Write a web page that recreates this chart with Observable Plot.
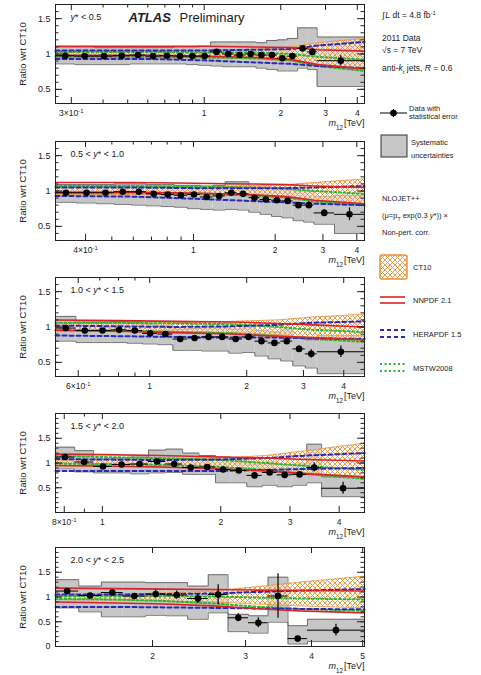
<!DOCTYPE html>
<html><head><meta charset="utf-8">
<script src="https://cdn.jsdelivr.net/npm/d3@7"></script>
<script src="https://cdn.jsdelivr.net/npm/@observablehq/plot@0.6"></script>
<style>
body{margin:0;background:#fff;font-family:"Liberation Sans",Arial,sans-serif;}
#wrap{position:relative;width:481px;height:675px;overflow:hidden;}
#wrap svg{position:absolute;}
</style></head><body><div id="wrap"></div>
<script>
// ---------- data ----------
const rapidityLabels = ["y* < 0.5", "0.5 < y* < 1.0", "1.0 < y* < 1.5", "1.5 < y* < 2.0", "2.0 < y* < 2.5"];
const xDomains = [[0.26, 4.27], [0.31, 4.27], [0.51, 4.64], [0.76, 4.64], [1.31, 5.04]];
const yDomains = [[0.3, 1.7], [0.3, 1.7], [0.3, 1.7], [0, 2], [0, 2]];
const yTickLabels = [[0.5, 1, 1.5], [0.5, 1, 1.5], [0.5, 1, 1.5], [0.5, 1, 1.5], [0, 0.5, 1, 1.5]];
const xTickValues = [
  [0.3, 0.4, 0.5, 0.6, 0.7, 0.8, 0.9, 1, 2, 3, 4],
  [0.4, 0.5, 0.6, 0.7, 0.8, 0.9, 1, 2, 3, 4],
  [0.6, 0.7, 0.8, 0.9, 1, 2, 3, 4],
  [0.8, 0.9, 1, 2, 3, 4],
  [2, 3, 4, 5]];
const xLabelValues = [[0.3, 1, 2, 3, 4], [0.4, 1, 2, 3, 4], [0.6, 1, 2, 3, 4], [0.8, 1, 2, 3, 4], [2, 3, 4, 5]];
const xLabelTexts = [
  ["3×10^-1", "1", "2", "3", "4"],
  ["4×10^-1", "1", "2", "3", "4"],
  ["6×10^-1", "1", "2", "3", "4"],
  ["8×10^-1", "1", "2", "3", "4"],
  ["2", "3", "4", "5"]];

const binEdges = [
  [0.26,0.31,0.37,0.44,0.51,0.59,0.67,0.76,0.85,0.95,1.06,1.18,1.31,1.45,1.60,1.76,1.94,2.12,2.33,2.55,2.78,4.27],
  [0.31,0.37,0.44,0.51,0.59,0.67,0.76,0.85,0.95,1.06,1.18,1.31,1.45,1.60,1.76,1.94,2.12,2.33,2.55,2.78,3.31,4.27],
  [0.51,0.59,0.67,0.76,0.85,0.95,1.06,1.18,1.31,1.45,1.60,1.76,1.94,2.12,2.33,2.55,2.78,3.04,3.31,4.64],
  [0.76,0.85,0.95,1.06,1.18,1.31,1.45,1.60,1.76,1.94,2.12,2.33,2.55,2.78,3.04,3.31,3.61,4.64],
  [1.31,1.45,1.60,1.76,1.94,2.12,2.33,2.55,2.78,3.04,3.31,3.61,3.93,5.04]];
const ratio = [
  [0.975,0.97,0.97,0.975,0.985,0.97,0.975,0.97,0.97,0.97,1.03,1.0,0.985,1.0,0.985,0.985,0.94,0.97,1.08,1.03,0.905],
  [0.975,0.975,0.975,0.99,0.99,0.96,0.95,0.94,0.95,0.915,0.93,0.975,0.96,0.905,0.88,0.87,0.86,0.80,0.80,0.69,0.67],
  [0.985,0.95,0.95,0.96,0.95,0.91,0.90,0.83,0.845,0.86,0.86,0.83,0.86,0.80,0.775,0.80,0.69,0.62,0.65],
  [1.12,1.02,0.93,0.97,0.98,1.03,0.98,0.91,0.92,0.87,0.85,0.75,0.81,0.76,0.77,0.91,0.49],
  [1.12,1.03,1.09,1.02,1.06,1.04,0.97,1.05,0.58,0.48,1.02,0.16,0.33]];
const statErr = [
  [0.005,0.005,0.005,0.005,0.005,0.006,0.006,0.007,0.008,0.009,0.010,0.011,0.012,0.014,0.016,0.020,0.025,0.030,0.040,0.050,0.070],
  [0.006,0.006,0.006,0.006,0.007,0.007,0.008,0.009,0.010,0.011,0.012,0.013,0.015,0.017,0.020,0.025,0.030,0.035,0.045,0.050,0.090],
  [0.010,0.010,0.010,0.010,0.012,0.013,0.014,0.015,0.016,0.018,0.020,0.022,0.025,0.030,0.035,0.040,0.050,0.060,0.080],
  [0.020,0.020,0.020,0.020,0.020,0.020,0.025,0.025,0.030,0.030,0.035,0.040,0.045,0.050,0.060,0.090,0.120],
  [0.05,0.04,0.05,0.05,0.08,0.08,0.10,0.20,0.08,0.10,0.45,0.03,0.12]];
const sysUp = [
  [1.10,1.10,1.09,1.09,1.09,1.09,1.09,1.10,1.10,1.11,1.17,1.17,1.17,1.17,1.16,1.19,1.20,1.22,1.37,1.37,1.24],
  [1.09,1.09,1.09,1.10,1.10,1.09,1.09,1.08,1.08,1.07,1.08,1.13,1.13,1.07,1.06,1.05,1.05,1.00,1.00,0.92,0.94],
  [1.15,1.07,1.07,1.08,1.07,1.03,1.02,0.97,0.98,0.99,0.99,0.97,1.00,0.95,0.93,0.96,0.86,0.82,0.88],
  [1.32,1.25,1.08,1.10,1.12,1.26,1.28,1.20,1.15,1.12,1.10,0.98,1.02,0.97,0.98,1.38,0.72],
  [1.35,1.22,1.30,1.30,1.29,1.29,1.22,1.45,0.65,0.62,1.40,0.42,0.55]];
const sysDown = [
  [0.86,0.85,0.85,0.85,0.86,0.86,0.86,0.86,0.85,0.84,0.83,0.82,0.82,0.82,0.80,0.78,0.76,0.76,0.80,0.78,0.54],
  [0.84,0.83,0.82,0.81,0.80,0.79,0.78,0.77,0.75,0.74,0.73,0.74,0.73,0.70,0.67,0.64,0.62,0.58,0.56,0.53,0.40],
  [0.80,0.78,0.78,0.78,0.77,0.76,0.75,0.67,0.67,0.66,0.66,0.63,0.64,0.59,0.55,0.52,0.45,0.42,0.34],
  [0.88,0.82,0.80,0.80,0.78,0.80,0.81,0.77,0.77,0.60,0.60,0.52,0.55,0.52,0.55,0.60,0.32],
  [0.78,0.70,0.60,0.60,0.63,0.62,0.55,0.68,0.30,0.27,0.49,0.05,0.10]];

const theoryNodes = [
  [0.26,0.6,1.0,1.6,2.2,2.8,4.27],
  [0.31,0.6,1.0,1.6,2.2,2.8,4.27],
  [0.51,0.8,1.2,1.8,2.5,3.2,4.64],
  [0.76,1.0,1.4,2.0,2.6,3.3,4.64],
  [1.31,1.7,2.1,2.6,3.1,3.8,5.04]];
const ct10Hi = [
  [1.05,1.05,1.05,1.07,1.10,1.16,1.22],
  [1.05,1.05,1.05,1.07,1.09,1.12,1.17],
  [1.05,1.05,1.06,1.08,1.10,1.14,1.18],
  [1.06,1.07,1.08,1.10,1.15,1.25,1.40],
  [1.05,1.06,1.08,1.12,1.20,1.30,1.42]];
const ct10Lo = [
  [0.95,0.95,0.95,0.93,0.90,0.84,0.76],
  [0.95,0.95,0.95,0.93,0.90,0.86,0.80],
  [0.95,0.95,0.94,0.92,0.89,0.85,0.80],
  [0.94,0.93,0.92,0.90,0.86,0.80,0.72],
  [0.95,0.94,0.92,0.90,0.86,0.82,0.78]];
const nnpdfHi = [
  [1.11,1.11,1.11,1.10,1.09,1.06,1.04],
  [1.12,1.12,1.11,1.10,1.09,1.07,1.05],
  [1.10,1.09,1.08,1.07,1.05,1.03,1.00],
  [1.18,1.17,1.15,1.12,1.10,1.07,1.04],
  [1.18,1.17,1.16,1.15,1.14,1.13,1.12]];
const nnpdfLo = [
  [0.98,0.98,0.97,0.95,0.92,0.85,0.79],
  [0.98,0.98,0.97,0.95,0.92,0.87,0.82],
  [0.95,0.94,0.92,0.90,0.87,0.85,0.82],
  [0.95,0.94,0.92,0.88,0.84,0.78,0.72],
  [0.90,0.88,0.86,0.82,0.77,0.72,0.68]];
const heraHi = [
  [1.05,1.05,1.05,1.06,1.07,1.12,1.17],
  [1.05,1.05,1.04,1.04,1.04,1.05,1.07],
  [1.02,1.01,1.00,1.01,1.03,1.06,1.08],
  [1.08,1.07,1.06,1.07,1.10,1.15,1.20],
  [1.05,1.05,1.06,1.07,1.10,1.13,1.16]];
const heraLo = [
  [0.93,0.93,0.91,0.88,0.86,0.83,0.80],
  [0.93,0.92,0.89,0.86,0.84,0.82,0.80],
  [0.88,0.87,0.86,0.85,0.85,0.84,0.83],
  [0.84,0.84,0.84,0.84,0.86,0.88,0.90],
  [0.80,0.80,0.79,0.78,0.77,0.76,0.75]];
const mstwHi = [
  [1.03,1.03,1.02,1.02,1.00,0.96,0.92],
  [1.07,1.07,1.06,1.05,1.03,1.00,0.96],
  [1.06,1.06,1.05,1.04,1.00,0.96,0.93],
  [1.14,1.12,1.10,1.06,1.00,0.94,0.86],
  [1.02,1.02,1.02,1.01,0.99,0.97,0.95]];
const mstwLo = [
  [0.96,0.96,0.95,0.94,0.91,0.83,0.76],
  [0.98,0.98,0.96,0.94,0.91,0.85,0.80],
  [0.96,0.95,0.93,0.91,0.87,0.83,0.79],
  [0.99,0.98,0.96,0.92,0.86,0.78,0.68],
  [0.96,0.95,0.92,0.87,0.81,0.76,0.72]];

// ---------- style / layout ----------
const FONT = "'Liberation Sans', Arial, sans-serif";
const C_ORANGE = "#e8923a", C_RED = "#d8232a", C_BLUE = "#2a2ab8", C_GREEN = "#2fb52f", C_GRAY = "#c6c6c6";
const W = 370, ML = 55, MR = 6, MT = 4, MB = 28, PH = 99, PW = W - ML - MR;
const frameTops = [4, 141, 277, 413, 547];

const wrap = d3.select("#wrap");
const defs = wrap.append("svg").attr("width", 0).attr("height", 0).style("left", "0px").style("top", "0px").append("defs");
const pat = defs.append("pattern").attr("id", "ct10hatch").attr("patternUnits", "userSpaceOnUse").attr("width", 5).attr("height", 5);
pat.append("rect").attr("width", 5).attr("height", 5).attr("fill", "rgba(255,250,240,0.55)");
pat.append("path").attr("d", "M0,0L5,5M5,0L0,5").attr("stroke", C_ORANGE).attr("stroke-width", 0.9).attr("fill", "none");

function richText(svg) {
  svg.querySelectorAll("text").forEach(t => {
    const s = t.textContent;
    if (s.includes("^")) {
      const [a, b] = s.split("^");
      t.textContent = "";
      d3.select(t).append("tspan").text(a);
      d3.select(t).append("tspan").attr("baseline-shift", "super").attr("font-size", "70%").text(b);
    } else if (s === "m12 [TeV]") {
      t.textContent = "";
      d3.select(t).append("tspan").attr("font-style", "italic").text("m");
      d3.select(t).append("tspan").attr("baseline-shift", "sub").attr("font-size", "70%").text("12");
      d3.select(t).append("tspan").attr("dx", 1).text("[TeV]");
    } else if (rapidityLabels.includes(s)) {
      const k = s.indexOf("y*");
      t.textContent = "";
      d3.select(t).append("tspan").text(s.slice(0, k));
      d3.select(t).append("tspan").attr("font-style", "italic").text("y");
      d3.select(t).append("tspan").text(s.slice(k + 1));
    }
  });
}

function panel(i) {
  const e = binEdges[i];
  const bins = ratio[i].map((v, j) => ({
    lo: e[j], hi: e[j + 1], c: Math.sqrt(e[j] * e[j + 1]), v,
    s: statErr[i][j], up: sysUp[i][j], dn: sysDown[i][j]}));
  const stepUp = bins.flatMap(b => [{x: b.lo, y: b.up}, {x: b.hi, y: b.up}]);
  const stepDn = bins.flatMap(b => [{x: b.lo, y: b.dn}, {x: b.hi, y: b.dn}]);
  const th = theoryNodes[i].map((x, j) => ({
    x, ctHi: ct10Hi[i][j], ctLo: ct10Lo[i][j], nnHi: nnpdfHi[i][j], nnLo: nnpdfLo[i][j],
    heHi: heraHi[i][j], heLo: heraLo[i][j], msHi: mstwHi[i][j], msLo: mstwLo[i][j]}));
  const [y0, y1] = yDomains[i];
  const yMinor = d3.range(Math.ceil(y0 * 10 + 1e-6), Math.floor(y1 * 10 - 1e-6) + 1).map(k => k / 10);
  const isMajorY = y => Math.abs(y * 2 - Math.round(y * 2)) < 1e-6;
  const labelMap = new Map(xLabelValues[i].map((v, j) => [v, xLabelTexts[i][j]]));
  const xMajor = xTickValues[i].filter(v => labelMap.has(v));
  const xMinorT = xTickValues[i].filter(v => !labelMap.has(v));
  const tick = "#222";
  const marks = [
    Plot.rect(bins, {x1: "lo", x2: "hi", y1: "dn", y2: "up", fill: C_GRAY}),
    Plot.line(stepUp, {x: "x", y: "y", stroke: "#555", strokeWidth: 0.8}),
    Plot.line(stepDn, {x: "x", y: "y", stroke: "#555", strokeWidth: 0.8}),
    Plot.areaY(th, {x: "x", y1: "ctLo", y2: "ctHi", fill: "url(#ct10hatch)"}),
    Plot.line(th, {x: "x", y: "ctHi", stroke: C_ORANGE, strokeWidth: 0.8}),
    Plot.line(th, {x: "x", y: "ctLo", stroke: C_ORANGE, strokeWidth: 0.8}),
    Plot.line(th, {x: "x", y: "msHi", stroke: C_GREEN, strokeWidth: 2, strokeDasharray: "2,2.5"}),
    Plot.line(th, {x: "x", y: "msLo", stroke: C_GREEN, strokeWidth: 2, strokeDasharray: "2,2.5"}),
    Plot.line(th, {x: "x", y: "heHi", stroke: C_BLUE, strokeWidth: 2, strokeDasharray: "4,3"}),
    Plot.line(th, {x: "x", y: "heLo", stroke: C_BLUE, strokeWidth: 2, strokeDasharray: "4,3"}),
    Plot.line(th, {x: "x", y: "nnHi", stroke: C_RED, strokeWidth: 1.6}),
    Plot.line(th, {x: "x", y: "nnLo", stroke: C_RED, strokeWidth: 1.6}),
    Plot.ruleY(bins, {y: "v", x1: "lo", x2: "hi", stroke: "black", strokeWidth: 1}),
    Plot.ruleX(bins, {x: "c", y1: d => d.v - d.s, y2: d => d.v + d.s, stroke: "black", strokeWidth: 1.2}),
    Plot.dot(bins, {x: "c", y: "v", r: 3.3, fill: "black"}),
    Plot.frame({stroke: "#222", strokeWidth: 1}),
    Plot.tickX(xMajor, {x: d => d, insetTop: PH - 6, stroke: tick}),
    Plot.tickX(xMajor, {x: d => d, insetBottom: PH - 6, stroke: tick}),
    Plot.tickX(xMinorT, {x: d => d, insetTop: PH - 3.5, stroke: tick}),
    Plot.tickX(xMinorT, {x: d => d, insetBottom: PH - 3.5, stroke: tick}),
    Plot.tickY(yMinor, {y: d => d, stroke: tick, insetRight: PW - 3.5}),
    Plot.tickY(yMinor, {y: d => d, stroke: tick, insetLeft: PW - 3.5}),
    Plot.tickY(yMinor.filter(isMajorY), {y: d => d, stroke: tick, insetRight: PW - 7}),
    Plot.tickY(yMinor.filter(isMajorY), {y: d => d, stroke: tick, insetLeft: PW - 7}),
    Plot.text(xLabelValues[i], {x: d => d, frameAnchor: "bottom", dy: 10, lineAnchor: "middle", textAnchor: "middle", fontSize: 8.5, text: d => labelMap.get(d)}),
    Plot.axisY(yTickLabels[i], {tickSize: 0, tickPadding: 5, fontSize: 9, tickFormat: d => String(d), label: null}),
    Plot.text([rapidityLabels[i]], {frameAnchor: "top-left", dx: 15, dy: 13, lineAnchor: "middle", textAnchor: "start", fontSize: 9}),
    Plot.text(["Ratio wrt CT10"], {frameAnchor: "left", dx: -33, rotate: -90, textAnchor: "middle", lineAnchor: "middle", fontSize: 9.5}),
    Plot.text(["m12 [TeV]"], {frameAnchor: "bottom-right", dy: 20, lineAnchor: "middle", textAnchor: "end", fontSize: 9})
  ];
  if (i === 0) {
    marks.push(Plot.text(["ATLAS"], {frameAnchor: "top-left", dx: 73, dy: 13, lineAnchor: "middle", textAnchor: "start", fontSize: 13, fontWeight: "bold", fontStyle: "italic"}));
    marks.push(Plot.text(["Preliminary"], {frameAnchor: "top-left", dx: 124, dy: 13, lineAnchor: "middle", textAnchor: "start", fontSize: 13}));
  }
  const svg = Plot.plot({
    width: W, height: MT + PH + MB,
    marginLeft: ML, marginRight: MR, marginTop: MT, marginBottom: MB,
    style: {fontFamily: FONT, background: "transparent", overflow: "visible", color: "#222"},
    x: {type: "log", domain: xDomains[i], axis: null},
    y: {domain: yDomains[i]},
    marks
  });
  richText(svg);
  svg.style.left = "0px";
  svg.style.top = (frameTops[i] - MT) + "px";
  wrap.node().appendChild(svg);
}
for (let i = 0; i < 5; i++) panel(i);

// ---------- legend ----------
const L = wrap.append("svg").attr("width", 481).attr("height", 675).style("left", "0px").style("top", "0px")
  .attr("font-family", FONT).attr("fill", "#222");
function txt(x, y, size) { return L.append("text").attr("x", x).attr("y", y).attr("font-size", size); }
let t = txt(382, 18, 8.5);
t.append("tspan").text("∫");
t.append("tspan").attr("font-style", "italic").attr("dx", 1).text("L");
t.append("tspan").text(" dt = 4.8 fb");
t.append("tspan").attr("baseline-shift", "super").attr("font-size", "70%").text("-1");
txt(382, 41, 8.5).text("2011 Data");
t = txt(382, 53, 8.5); t.append("tspan").text("√s = 7 TeV");
t = txt(382, 71, 8.5);
t.append("tspan").text("anti-");
t.append("tspan").attr("font-style", "italic").text("k");
t.append("tspan").attr("baseline-shift", "sub").attr("font-size", "70%").text("t");
t.append("tspan").text(" jets, ");
t.append("tspan").attr("font-style", "italic").text("R");
t.append("tspan").text(" = 0.6");
L.append("line").attr("x1", 380).attr("x2", 407).attr("y1", 113).attr("y2", 113).attr("stroke", "black").attr("stroke-width", 1);
L.append("line").attr("x1", 393.5).attr("x2", 393.5).attr("y1", 109).attr("y2", 117).attr("stroke", "black").attr("stroke-width", 1.2);
L.append("circle").attr("cx", 393.5).attr("cy", 113).attr("r", 3.3).attr("fill", "black");
txt(409, 111, 7.5).text("Data with");
txt(409, 119, 7.5).text("statistical error");
L.append("rect").attr("x", 381).attr("y", 135).attr("width", 26).attr("height", 22).attr("fill", C_GRAY).attr("stroke", "#333");
txt(411, 145, 7.5).text("Systematic");
txt(411, 158, 7.5).text("uncertainties");
txt(382, 201, 7.5).text("NLOJET++");
t = txt(382, 218, 7.5);
t.append("tspan").text("(μ=p");
t.append("tspan").attr("baseline-shift", "sub").attr("font-size", "70%").text("T");
t.append("tspan").text(" exp(0.3 ");
t.append("tspan").attr("font-style", "italic").text("y");
t.append("tspan").text("*)) ×");
txt(382, 235, 7.5).text("Non-pert. corr.");
L.append("rect").attr("x", 380).attr("y", 255).attr("width", 27).attr("height", 24).attr("rx", 2)
  .attr("fill", "url(#ct10hatch)").attr("stroke", C_ORANGE).attr("stroke-width", 1.5);
txt(413, 270, 7.5).text("CT10");
[297, 303].forEach(y => L.append("line").attr("x1", 380).attr("x2", 405).attr("y1", y).attr("y2", y).attr("stroke", C_RED).attr("stroke-width", 1.6));
txt(413, 303, 7.5).text("NNPDF 2.1");
[330, 337].forEach(y => L.append("line").attr("x1", 380).attr("x2", 405).attr("y1", y).attr("y2", y).attr("stroke", C_BLUE).attr("stroke-width", 2).attr("stroke-dasharray", "4,3"));
txt(413, 337, 7.5).text("HERAPDF 1.5");
[364, 371].forEach(y => L.append("line").attr("x1", 380).attr("x2", 405).attr("y1", y).attr("y2", y).attr("stroke", C_GREEN).attr("stroke-width", 2).attr("stroke-dasharray", "2,2.5"));
txt(413, 371, 7.5).text("MSTW2008");
</script></body></html>
